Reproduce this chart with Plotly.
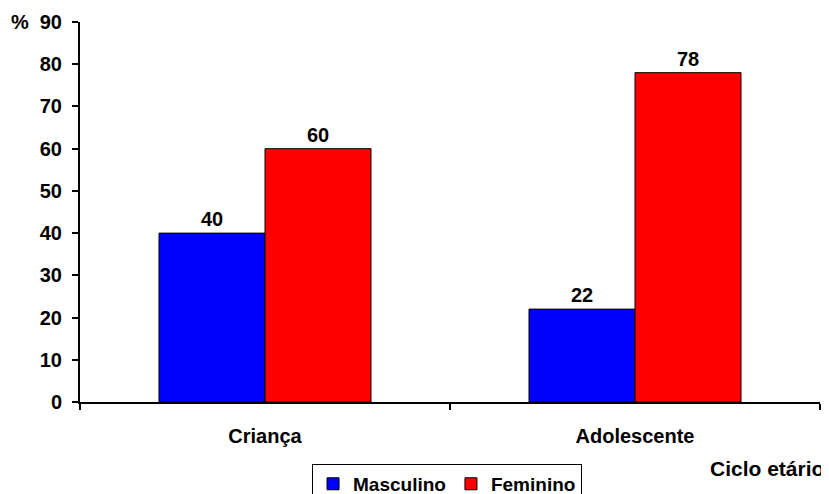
import plotly.graph_objects as go

categories = ["Criança", "Adolescente"]
masculino = [40, 22]
feminino = [60, 78]
y_ticks = [0, 10, 20, 30, 40, 50, 60, 70, 80, 90]

FONT = "Liberation Sans, Arial, sans-serif"

fig = go.Figure()
fig.add_trace(go.Bar(
    name="<b>Masculino</b>", x=categories, y=masculino,
    marker=dict(color="#0000FF", line=dict(color="black", width=1)),
    text=[f"<b>{v}</b>" for v in masculino], textposition="outside",
    textfont=dict(size=20, color="black", family=FONT), cliponaxis=False,
))
fig.add_trace(go.Bar(
    name="<b>Feminino</b>", x=categories, y=feminino,
    marker=dict(color="#FF0000", line=dict(color="black", width=1)),
    text=[f"<b>{v}</b>" for v in feminino], textposition="outside",
    textfont=dict(size=20, color="black", family=FONT), cliponaxis=False,
))

# page body adds an 8px offset, so the figure is 821x486 placed at (8, 8)
fig.update_layout(
    width=821, height=486,
    margin=dict(l=72, r=9, t=14, b=92, autoexpand=False),
    paper_bgcolor="white", plot_bgcolor="white",
    font=dict(family=FONT, size=20, color="black"),
    barmode="group", bargap=0.427, bargroupgap=0,
    showlegend=True,
    legend=dict(orientation="h", x=0.496, xanchor="center", y=-0.163, yanchor="top",
                bordercolor="black", borderwidth=1, font=dict(size=19),
                itemwidth=30, tracegroupgap=0),
    xaxis=dict(type="category", showline=True, linecolor="black", linewidth=2,
               ticks="outside", tickson="boundaries", ticklen=6, tickwidth=2, tickcolor="black",
               tickvals=categories, ticktext=[f"<b>{c}</b>" for c in categories],
               ticklabelstandoff=15, range=[-0.5, 1.5], showgrid=False, automargin=False),
    yaxis=dict(range=[0, 90], tickvals=y_ticks, ticktext=[f"<b>{v}</b>" for v in y_ticks],
               showline=True, linecolor="black", linewidth=2,
               ticks="outside", ticklen=6, tickwidth=2, tickcolor="black",
               showgrid=False, zeroline=False, ticklabelstandoff=6, automargin=False),
    annotations=[
        dict(text="<b>%</b>", xref="paper", yref="paper", x=-0.081, y=1.0,
             xanchor="center", yanchor="middle", showarrow=False, font=dict(size=20)),
        dict(text="<b>Ciclo etário</b>", xref="paper", yref="paper", x=1.008, y=-0.174,
             xanchor="right", yanchor="middle", showarrow=False, font=dict(size=21)),
    ],
)

fig.write_html("out.html")
